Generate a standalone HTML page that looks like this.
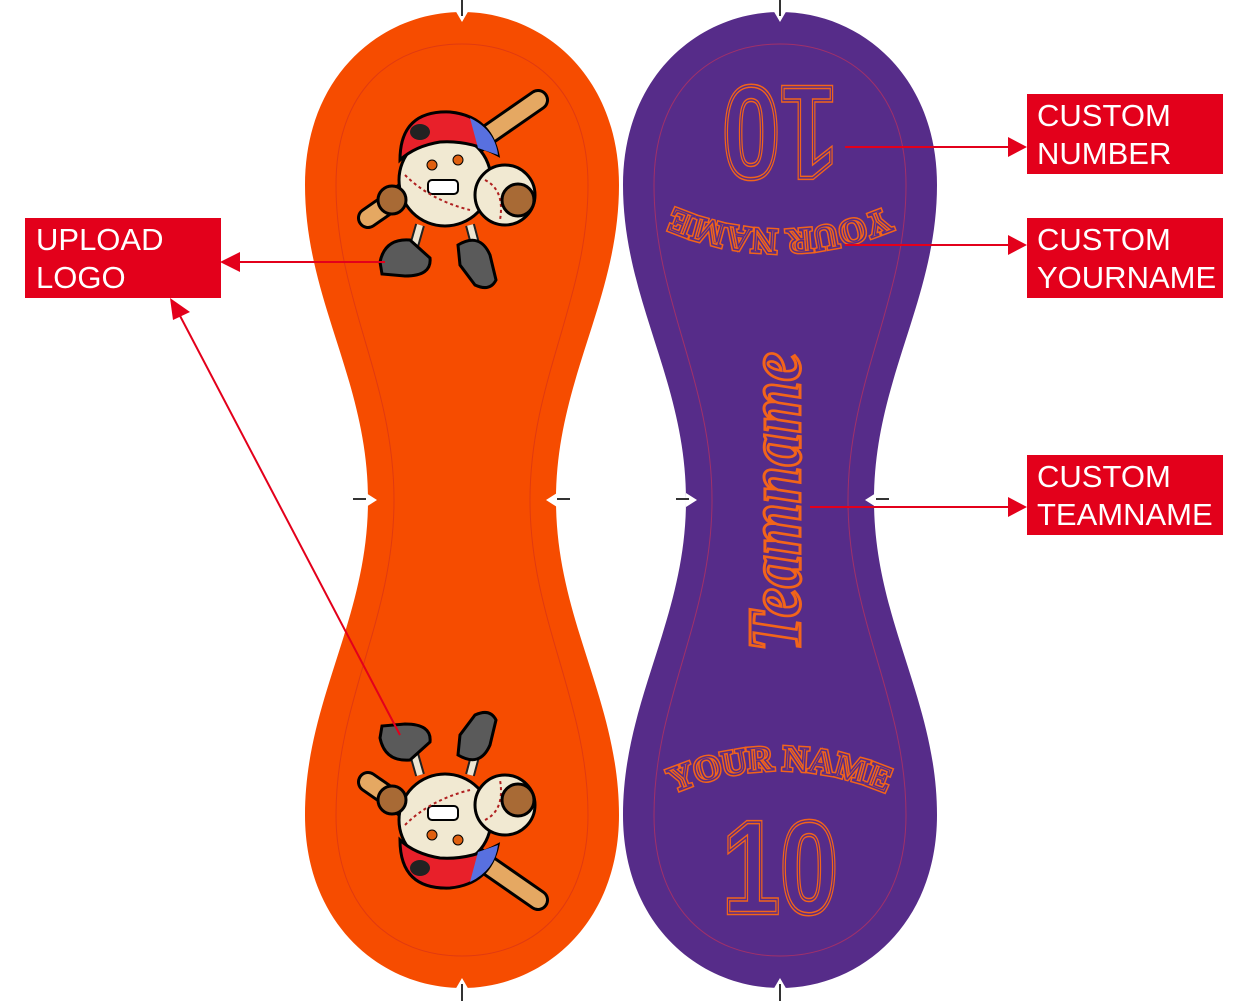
<!DOCTYPE html>
<html><head><meta charset="utf-8"><style>
html,body{margin:0;padding:0;background:#fff;}
svg{display:block;}
.lab{font-family:"Liberation Sans",Arial,sans-serif;font-size:31px;fill:#fff;}
</style></head><body>
<svg width="1245" height="1001" viewBox="0 0 1245 1001" xmlns="http://www.w3.org/2000/svg">
<defs>
<path id="peanut" d="M 0,12 C 80,12 157,75 157,185 C 157,300 94,380 94,500 C 94,620 157,700 157,815 C 157,925 80,988 0,988 C -80,988 -157,925 -157,815 C -157,700 -94,620 -94,500 C -94,380 -157,300 -157,185 C -157,75 -80,12 0,12 Z"/>
<path id="inner" d="M 0,44 C 70,44 126,90 126,185 C 126,300 68,380 68,500 C 68,620 126,700 126,815 C 126,910 70,956 0,956 C -70,956 -126,910 -126,815 C -126,700 -68,620 -68,500 C -68,380 -126,300 -126,185 C -126,90 -70,44 0,44 Z"/>
<path id="arc" d="M 630,815 Q 780,725 930,815"/>
<g id="mascot">
  <line x1="368" y1="218" x2="538" y2="100" stroke="#000" stroke-width="22" stroke-linecap="round"/>
  <line x1="368" y1="218" x2="538" y2="100" stroke="#E5A862" stroke-width="16" stroke-linecap="round"/>
  <line x1="420" y1="225" x2="410" y2="260" stroke="#222" stroke-width="10"/>
  <line x1="470" y1="225" x2="478" y2="255" stroke="#222" stroke-width="10"/>
  <line x1="420" y1="225" x2="410" y2="260" stroke="#EEE6D2" stroke-width="6"/>
  <line x1="470" y1="225" x2="478" y2="255" stroke="#EEE6D2" stroke-width="6"/>
  <path d="M380,262 Q385,238 410,240 L430,258 Q432,276 405,276 L382,274 Z" fill="#5a5a5a" stroke="#000" stroke-width="3"/>
  <path d="M458,245 Q480,232 490,255 L496,280 Q490,292 475,285 L460,265 Z" fill="#5a5a5a" stroke="#000" stroke-width="3"/>
  <circle cx="445" cy="180" r="46" fill="#F1E9D2" stroke="#000" stroke-width="3"/>
  <path d="M400,160 Q400,110 450,112 Q490,116 498,155 Q470,140 440,142 Q415,146 400,160 Z" fill="#E8202A" stroke="#000" stroke-width="3"/>
  <path d="M470,118 Q495,130 498,155 L478,148 Z" fill="#5870E0"/>
  <ellipse cx="420" cy="132" rx="10" ry="8" fill="#222"/>
  <circle cx="505" cy="195" r="30" fill="#F1E9D2" stroke="#000" stroke-width="3"/>
  <path d="M485,180 Q505,190 500,220" stroke="#B02020" stroke-width="2" fill="none" stroke-dasharray="3 3"/>
  <circle cx="518" cy="200" r="16" fill="#A86A35" stroke="#000" stroke-width="3"/>
  <circle cx="392" cy="200" r="14" fill="#A86A35" stroke="#000" stroke-width="3"/>
  <rect x="428" y="180" width="30" height="14" rx="4" fill="#fff" stroke="#000" stroke-width="2"/>
  <circle cx="432" cy="165" r="5" fill="#E06010" stroke="#000"/>
  <circle cx="458" cy="160" r="5" fill="#E06010" stroke="#000"/>
  <path d="M405,175 Q430,200 470,210" stroke="#B02020" stroke-width="2" fill="none" stroke-dasharray="3 3"/>
</g>
<g id="pt">
  <text font-size="35" font-family="Liberation Serif,serif" font-weight="bold"><textPath href="#arc" startOffset="50%" text-anchor="middle">YOUR NAME</textPath></text>
  <text x="780" y="913" font-size="132" text-anchor="middle" textLength="116" lengthAdjust="spacingAndGlyphs" font-family="Liberation Sans,sans-serif" font-weight="bold">10</text>
</g>
</defs>

<g transform="translate(462,0)">
  <use href="#peanut" fill="#F64C00"/>
  <use href="#inner" fill="none" stroke="#E03A10" stroke-width="1"/>
</g>
<g transform="translate(780,0)">
  <use href="#peanut" fill="#562C89"/>
  <use href="#inner" fill="none" stroke="#A0306A" stroke-width="1"/>
</g>

<g fill="#fff">
  <polygon points="455,10 469,10 462,22"/><polygon points="773,10 787,10 780,22"/>
  <polygon points="455,990 469,990 462,978"/><polygon points="773,990 787,990 780,978"/>
  <polygon points="366,493 366,507 377,500"/><polygon points="557,493 557,507 546,500"/>
  <polygon points="686,493 686,507 697,500"/><polygon points="876,493 876,507 865,500"/>
</g>
<g stroke="#333" stroke-width="2">
  <line x1="462" y1="0" x2="462" y2="16"/><line x1="780" y1="0" x2="780" y2="16"/>
  <line x1="462" y1="984" x2="462" y2="1001"/><line x1="780" y1="984" x2="780" y2="1001"/>
  <line x1="353" y1="499" x2="366" y2="499"/><line x1="557" y1="499" x2="570" y2="499"/>
  <line x1="676" y1="499" x2="689" y2="499"/><line x1="876" y1="499" x2="889" y2="499"/>
</g>

<use href="#mascot"/>
<g transform="translate(0,1000) scale(1,-1)"><use href="#mascot"/></g>

<g fill="none" stroke="#F2641A" stroke-width="4.5"><use href="#pt"/></g>
<g fill="none" stroke="#562C89" stroke-width="1.5"><use href="#pt"/></g>
<g transform="rotate(180 780 500)">
  <g fill="none" stroke="#F2641A" stroke-width="4.5"><use href="#pt"/></g>
  <g fill="none" stroke="#562C89" stroke-width="1.5"><use href="#pt"/></g>
</g>
<text transform="translate(800,502) rotate(-90)" x="0" y="0" font-family="Liberation Serif,serif" font-style="italic" font-weight="bold" font-size="76" text-anchor="middle" textLength="300" lengthAdjust="spacingAndGlyphs" fill="none" stroke="#F2641A" stroke-width="3">Teamname</text>

<g stroke="#E3001B" stroke-width="2" fill="#E3001B">
  <line x1="845" y1="147" x2="1012" y2="147"/><polygon points="1027,147 1008,137 1008,157" stroke="none"/>
  <line x1="845" y1="245" x2="1012" y2="245"/><polygon points="1027,245 1008,235 1008,255" stroke="none"/>
  <line x1="810" y1="507" x2="1012" y2="507"/><polygon points="1027,507 1008,497 1008,517" stroke="none"/>
  <line x1="385" y1="262" x2="236" y2="262"/><polygon points="220,262 240,252 240,272" stroke="none"/>
  <line x1="400" y1="735" x2="178" y2="312"/><polygon points="170,298 173,320 190,312" stroke="none"/>
</g>

<rect x="1027" y="94" width="196" height="80" fill="#E3001B"/>
<text class="lab" x="1037" y="126">CUSTOM</text><text class="lab" x="1037" y="164">NUMBER</text>
<rect x="1027" y="218" width="196" height="80" fill="#E3001B"/>
<text class="lab" x="1037" y="250">CUSTOM</text><text class="lab" x="1037" y="288">YOURNAME</text>
<rect x="1027" y="455" width="196" height="80" fill="#E3001B"/>
<text class="lab" x="1037" y="487">CUSTOM</text><text class="lab" x="1037" y="525">TEAMNAME</text>
<rect x="25" y="218" width="196" height="80" fill="#E3001B"/>
<text class="lab" x="36" y="250">UPLOAD</text><text class="lab" x="36" y="288">LOGO</text>
</svg>
</body></html>
